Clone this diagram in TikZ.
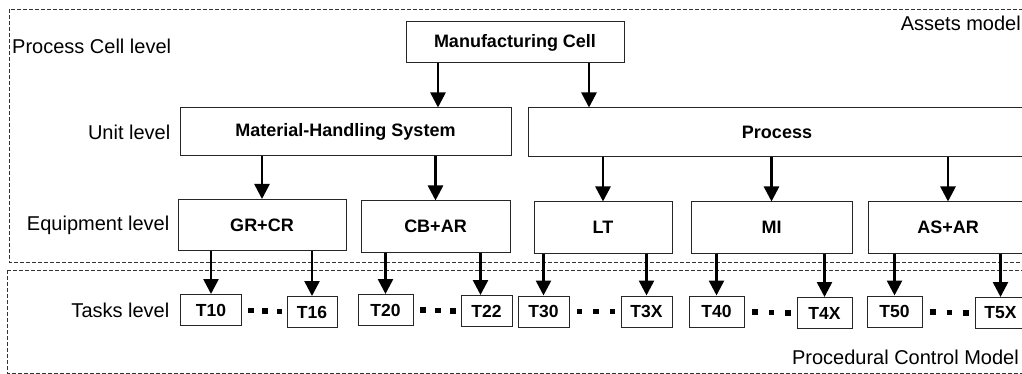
\documentclass[tikz,border=0pt]{standalone}
\usepackage{fontspec}
\setmainfont{Liberation Sans}
\usetikzlibrary{arrows.meta,calc}

\begin{document}
\begin{tikzpicture}[x=1pt, y=-1pt,
        box/.style={rectangle, draw=black!85, line width=1pt, inner sep=0pt, font=\fontsize{18}{21}\selectfont\bfseries},
        task/.style={box, minimum height=31pt, font=\fontsize{17.5}{20}\selectfont\bfseries},
        lvl/.style={inner sep=0pt, font=\fontsize{20}{24}\selectfont},
        frame/.style={draw=black!80, line width=0.9pt, dash pattern=on 4pt off 2pt},
        arr/.style={draw=black, line width=2.6pt, -{Triangle[length=15pt,width=15pt]}}
    ]
        \useasboundingbox (0,0) rectangle (1022,374);

        \draw[frame] (9,9) rectangle (1040,262);
        \draw[frame] (7,270) rectangle (1040,373);
        \node[lvl, anchor=east] (assets) at (1021,23) {Assets model};
        \node[lvl, anchor=east] (pcm) at (1019,357) {Procedural Control Model};

        \node[box, minimum width=218pt, minimum height=41pt] (mc) at (515,42.5) {Manufacturing Cell};
        \node[box, minimum width=331pt, minimum height=48pt] (mhs) at (345.5,132) {Material-Handling System};
        \node[box, minimum width=498pt, minimum height=49pt] (proc) at (777,132.5) {Process};

        \foreach \n/\t/\x/\y/\w in {grcr/GR+CR/262/225/168, cbar/CB+AR/435.5/226.5/149, lt/LT/603/227.5/138, mi/MI/771.5/227.5/161, asar/AS+AR/948/227.5/160}
            \node[box, minimum width=\w pt, minimum height=51pt] (\n) at (\x,\y) {\t};

        \foreach \n/\t/\x/\y/\w in {t10/T10/211/310/61, t16/T16/312/312/50, t20/T20/385.5/310/55, t22/T22/486.5/311/51, t30/T30/543.5/311.5/51, t3x/T3X/646.5/311.5/51, t40/T40/716.5/311.5/55, t4x/T4X/824.5/313/55, t50/T50/894.5/311.5/55, t5x/T5X/1000.5/313/51}
            \node[task, minimum width=\w pt] (\n) at (\x,\y) {\t};

        \node[lvl, anchor=west] (lcell) at (12,46) {Process Cell level};
        \node[lvl, anchor=east] (lunit) at ([xshift=-9pt]mhs.west) {Unit level};
        \node[lvl, anchor=east] (lequip) at ([xshift=-8pt]grcr.west) {Equipment level};
        \node[lvl, anchor=east] (ltask) at ([xshift=-10.5pt]t10.west) {Tasks level};

        \draw[arr] ([xshift=-77pt]mc.south) -- ([xshift=-77pt]mc.south |- mhs.north);
        \draw[arr] ([xshift=74pt]mc.south) -- ([xshift=74pt]mc.south |- proc.north);

        \foreach \p/\c in {mhs/grcr, mhs/cbar, proc/lt, proc/mi, proc/asar}
            \draw[arr] (\p.south -| \c.north) -- (\c.north);

        \foreach \p/\c/\s in {grcr/t10/0, grcr/t16/0, cbar/t20/0, cbar/t22/-6, lt/t30/0, lt/t3x/0, mi/t40/0, mi/t4x/0, asar/t50/0, asar/t5x/0}
            \draw[arr] (\p.south -| \c.north) ++(\s,0) -- ([xshift=\s pt]\c.north);

        \foreach \a/\b in {t10/t16, t20/t22, t30/t3x, t40/t4x, t50/t5x}
            \foreach \f in {0.2,0.52,0.84}
                \fill ($(\a.east)!\f!(\b.west)$) ++(-2.75,-2.75) rectangle ++(5.5,5.5);
    \end{tikzpicture}
\end{document}
